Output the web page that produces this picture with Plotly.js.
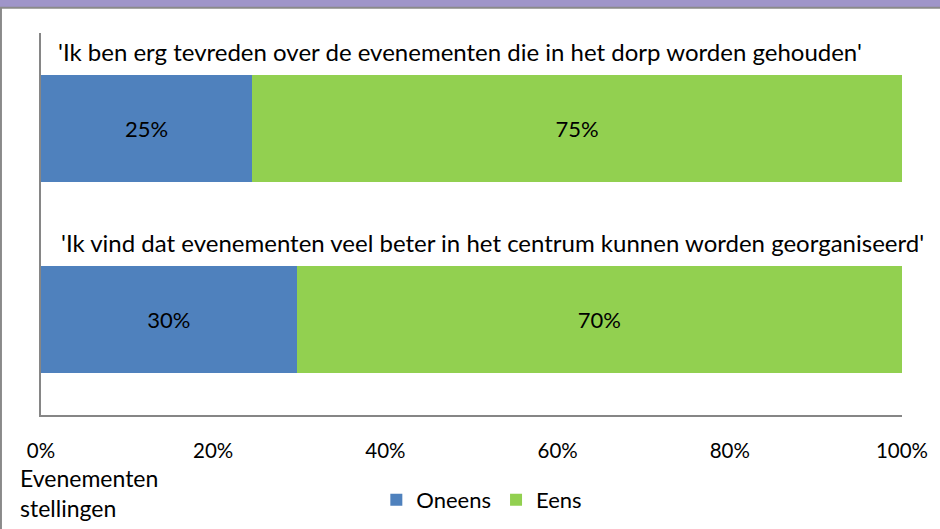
<!DOCTYPE html>
<html>
<head>
<meta charset="utf-8">
<script src="https://cdn.plot.ly/plotly-3.0.1.min.js"></script>
<style>html,body{margin:0;padding:0;background:#fff;}#chart{width:940px;height:529px;}</style>
</head>
<body>
<div id="chart"></div>
<script>
var categories = [
  "'Ik vind dat evenementen veel beter in het centrum kunnen worden georganiseerd'",
  "'Ik ben erg tevreden over de evenementen die in het dorp worden gehouden'"
];
var oneens = [0.297, 0.245];
var eens = [0.703, 0.755];
var oneensLabels = ["30%", "25%"];
var eensLabels = ["70%", "75%"];
var tickValues = [0, 0.2, 0.4, 0.6, 0.8, 1.0];
var tickLabels = ["0%", "20%", "40%", "60%", "80%", "100%"];
var axisTitle = "Evenementen<br>stellingen";

var FONT = "Lato, 'Open Sans', sans-serif";

var traces = [
  {type:'bar', orientation:'h', name:'Oneens', y:categories, x:oneens,
   marker:{color:'#4f81bd'}, width:0.565,
   text:oneensLabels, textposition:'inside', insidetextanchor:'middle',
   textfont:{color:'#000', size:22, family:FONT}, hoverinfo:'x'},
  {type:'bar', orientation:'h', name:'Eens', y:categories, x:eens,
   marker:{color:'#92d050'}, width:0.565,
   text:eensLabels, textposition:'inside', insidetextanchor:'middle',
   textfont:{color:'#000', size:22, family:FONT}, hoverinfo:'x'}
];

var annotations = categories.map(function(c, i){
  return {xref:'x', yref:'y', x:0, y:c, text:c, showarrow:false,
    xanchor:'left', yanchor:'middle', xshift:(i === 0 ? 18 : 15), yshift:77,
    font:{size:24, color:'#000', family:FONT}};
});
annotations.push({xref:'paper', yref:'paper', x:-0.027, y:-0.123, xanchor:'left', yanchor:'top',
  align:'left', showarrow:false, text:axisTitle, font:{size:23, color:'#000', family:FONT}});

var layout = {
  width:940, height:529,
  margin:{l:41, r:38, t:33, b:114, autoexpand:false},
  barmode:'stack',
  paper_bgcolor:'#fff', plot_bgcolor:'#fff',
  showlegend:true,
  legend:{orientation:'h', x:0.512, xanchor:'center', y:-0.2225, yanchor:'middle',
    font:{size:22, color:'#000', family:FONT}, traceorder:'normal', itemwidth:30},
  xaxis:{range:[0,1], tickvals:tickValues, ticktext:tickLabels, showgrid:false, zeroline:false,
    showline:true, linecolor:'#868686', linewidth:2, ticks:'', ticklabelstandoff:16,
    tickfont:{size:20.5, color:'#000', family:FONT}, fixedrange:true, automargin:false},
  yaxis:{type:'category', categoryorder:'array', categoryarray:categories, range:[-0.5,1.5],
    showticklabels:false, showgrid:false, zeroline:false, showline:true, linecolor:'#868686',
    linewidth:2, ticks:'', fixedrange:true, automargin:false},
  annotations:annotations,
  shapes:[
    {type:'rect', xref:'paper', yref:'paper', x0:-0.06, x1:1.06, y0:1.068, y1:1.1, fillcolor:'#9f95c9', line:{width:0}, layer:'below'},
    {type:'line', xref:'paper', yref:'paper', x0:-0.06, x1:1.06, y0:1.066, y1:1.066, line:{color:'#8a8a8a', width:2}},
    {type:'line', xref:'paper', yref:'paper', x0:-0.0465, x1:-0.0465, y0:-0.3, y1:1.066, line:{color:'#8a8a8a', width:2}}
  ],
  font:{family:FONT}
};
Plotly.newPlot('chart', traces, layout, {displayModeBar:false, staticPlot:true});
</script>
</body>
</html>
